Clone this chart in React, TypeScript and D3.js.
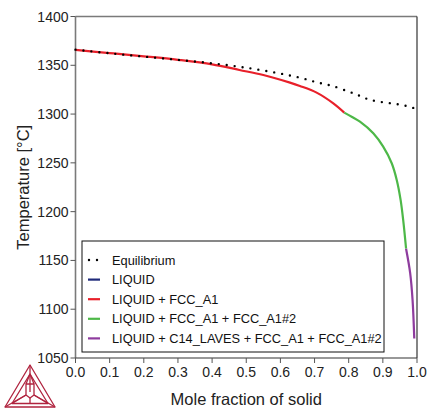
import React from "react";
import * as d3 from "d3";

// Equilibrium solidification path
const eqFrac = [0, 0.1, 0.2, 0.3, 0.4, 0.5, 0.6, 0.657, 0.706, 0.753, 0.8, 0.822, 0.845, 0.86, 0.884, 0.908, 0.933, 0.955, 0.98, 1.0];
const eqTemp = [1366, 1362.3, 1358.9, 1355.6, 1352, 1347.5, 1341.5, 1337.3, 1332.6, 1328.8, 1323, 1320.3, 1316.8, 1314.8, 1313.1, 1311.7, 1310.7, 1309.3, 1307.3, 1305];

// Scheil segments, by phase region
const fccFrac = [0, 0.1, 0.2, 0.3, 0.4, 0.48, 0.55, 0.628, 0.657, 0.706, 0.755, 0.787];
const fccTemp = [1365.7, 1362.5, 1359.2, 1355.6, 1351, 1345.2, 1340, 1332.2, 1328.8, 1322, 1311, 1301.5];
const fcc2Frac = [0.787, 0.81, 0.833, 0.872, 0.901, 0.926, 0.941, 0.952, 0.96, 0.968];
const fcc2Temp = [1301.5, 1297, 1292.2, 1280.3, 1266.6, 1249.6, 1232, 1212, 1190, 1162];
const lavesFrac = [0.968, 0.98, 0.987, 0.992];
const lavesTemp = [1162, 1137, 1109.5, 1070];

const xTicks = [0, 0.1, 0.2, 0.3, 0.4, 0.5, 0.6, 0.7, 0.8, 0.9, 1.0];
const yTicks = [1050, 1100, 1150, 1200, 1250, 1300, 1350, 1400];

const legendLabels = ["Equilibrium", "LIQUID", "LIQUID + FCC_A1", "LIQUID + FCC_A1 + FCC_A1#2", "LIQUID + C14_LAVES + FCC_A1 + FCC_A1#2"];
const legendColors = ["#000000", "#1f2a7a", "#e8202a", "#4db848", "#8e3c9e"];

const W = 427, H = 412;
const left = 75.5, right = 417, top = 16.5, bottom = 358;
const font = "Arial, 'Liberation Sans', sans-serif";

export default function App() {
  const x = d3.scaleLinear().domain([0, 1]).range([left, right]);
  const y = d3.scaleLinear().domain([1050, 1400]).range([bottom, top]);
  const line = d3.line<[number, number]>().x(d => x(d[0])).y(d => y(d[1])).curve(d3.curveCatmullRom);
  const pts = (a: number[], b: number[]) => a.map((v, i) => [v, b[i]] as [number, number]);

  return (
    <svg width={W} height={H} style={{ position: "absolute", left: 0, top: 0, background: "#fff" }}>
      <rect width={W} height={H} fill="#fff" />
      {/* frame */}
      <line x1={left} x2={right} y1={top} y2={top} stroke="#7a7a7a" strokeWidth={1.6} />
      <line x1={left} x2={left} y1={top} y2={bottom} stroke="#7a7a7a" strokeWidth={1.6} />
      <line x1={right} x2={right} y1={top} y2={bottom} stroke="#333" strokeWidth={1.2} />
      <line x1={left} x2={right} y1={bottom} y2={bottom} stroke="#333" strokeWidth={1.2} />
      {/* ticks */}
      {yTicks.map(t => (
        <g key={"y" + t}>
          <line x1={left - 5} x2={left} y1={y(t)} y2={y(t)} stroke="#555" strokeWidth={1} />
          <text x={left - 7} y={y(t) + 5} textAnchor="end" fontSize={14} fontFamily={font} fill="#222">{t}</text>
        </g>
      ))}
      {xTicks.map(t => (
        <g key={"x" + t}>
          <line x1={x(t)} x2={x(t)} y1={bottom} y2={bottom + 5} stroke="#555" strokeWidth={1} />
          <text x={x(t)} y={bottom + 19} textAnchor="middle" fontSize={14} fontFamily={font} fill="#222">{t.toFixed(1)}</text>
        </g>
      ))}
      <text x={(left + right) / 2} y={405} textAnchor="middle" fontSize={16.5} fontFamily={font} fill="#222">Mole fraction of solid</text>
      <text transform={`translate(29,${(top + bottom) / 2}) rotate(-90)`} textAnchor="middle" fontSize={16.5} fontFamily={font} fill="#222">Temperature [°C]</text>

      {/* curves */}
      <path d={line(pts(fccFrac, fccTemp)) || ""} fill="none" stroke={legendColors[2]} strokeWidth={2.2} />
      <path d={line(pts(fcc2Frac, fcc2Temp)) || ""} fill="none" stroke={legendColors[3]} strokeWidth={2.2} />
      <path d={line(pts(lavesFrac, lavesTemp)) || ""} fill="none" stroke={legendColors[4]} strokeWidth={2.2} />
      <path d={line(pts(eqFrac, eqTemp)) || ""} fill="none" stroke="#000" strokeWidth={2.4} strokeDasharray="0 8" strokeLinecap="round" />

      {/* legend */}
      <rect x={82} y={241} width={302} height={111} fill="#fff" stroke="#111" strokeWidth={1} />
      {legendLabels.map((l, i) => {
        const ly = 260 + i * 19.6;
        return (
          <g key={l}>
            {i === 0 ? (
              <line x1={89} x2={100} y1={ly} y2={ly} stroke="#000" strokeWidth={2.4} strokeDasharray="0 8" strokeLinecap="round" />
            ) : (
              <line x1={88} x2={100} y1={ly} y2={ly} stroke={legendColors[i]} strokeWidth={2.2} />
            )}
            <text x={112} y={ly + 4.5} fontSize={12.8} fontFamily={font} fill="#111">{l}</text>
          </g>
        );
      })}

      {/* logo */}
      <g stroke="#b0243f" strokeWidth={1.3} fill="none" strokeLinejoin="round">
        <polygon points="30,365 5,407 55,407" />
        <polygon points="30,374 12,403.5 48,403.5" />
        <line x1={30} y1={365} x2={30} y2={392} />
        <line x1={5} y1={407} x2={26} y2={395} />
        <line x1={55} y1={407} x2={34} y2={395} />
        <polygon points="26,384 34,384 34,395 30,398 26,395" />
        <line x1={30} y1={374} x2={26} y2={384} />
        <line x1={30} y1={374} x2={34} y2={384} />
        <line x1={12} y1={403.5} x2={26} y2={395} />
        <line x1={48} y1={403.5} x2={34} y2={395} />
        <line x1={30} y1={398} x2={30} y2={403.5} />
      </g>
    </svg>
  );
}
